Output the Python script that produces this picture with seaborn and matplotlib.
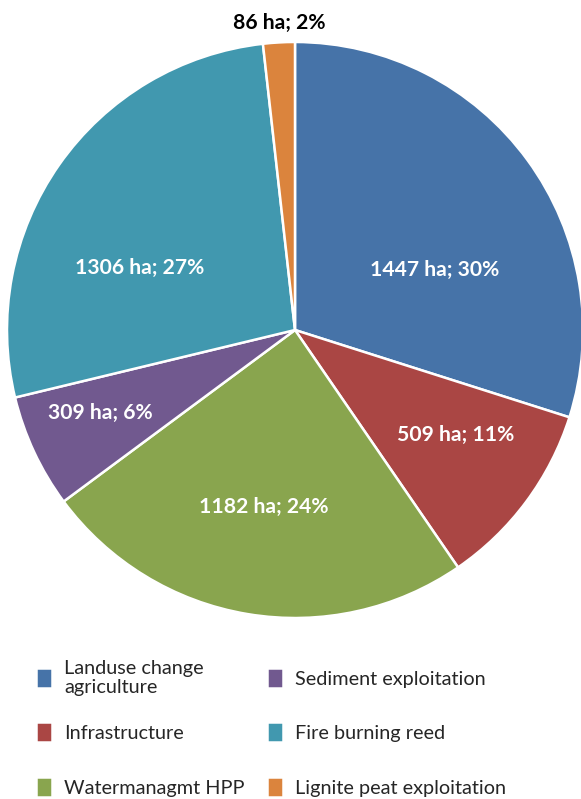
import matplotlib
matplotlib.use("Agg")
import matplotlib.pyplot as plt
import seaborn as sns

# Land affected by each driver (hectares)
categories = ["Landuse change\nagriculture", "Infrastructure", "Watermanagmt HPP",
              "Sediment exploitation", "Fire burning reed", "Lignite peat exploitation"]
hectares = [1447, 509, 1182, 309, 1306, 86]
colors_hex = ["#4673A8", "#AA4644", "#89A54E", "#71598F", "#4198AF", "#DB843D"]

sns.set_theme(style="white")
plt.rcParams["font.family"] = ["Lato", "DejaVu Sans"]

palette = sns.color_palette(colors_hex)

fig = plt.figure(figsize=(5.81, 7.99), dpi=100)
ax = fig.add_axes([7 / 581, (799 - 330 - 288) / 799, 576 / 581, 576 / 799])

wedges, _ = ax.pie(hectares, colors=palette, startangle=90, counterclock=False,
                   radius=1.0, wedgeprops=dict(edgecolor="white", linewidth=1.8))
ax.set_xlim(-1, 1)
ax.set_ylim(-1, 1)
ax.set_aspect("equal")
ax.axis("off")

# Data labels "<ha> ha; <pct>%" placed in/around each slice
total = sum(hectares)
label_pos = [(0.486, 0.208), (0.559, -0.365), (-0.108, -0.615),
             (-0.677, -0.288), (-0.538, 0.215), (-0.055, 1.066)]
for val, (lx, ly), w in zip(hectares, label_pos, wedges):
    pct = round(100 * val / total)
    inside = val > 200
    ax.text(lx, ly, f"{val} ha; {pct}%", ha="center", va="center",
            fontsize=15.2, fontweight="bold",
            color="white" if inside else "black", clip_on=False)

# Legend: two columns, three rows
row_y = [678, 732, 787]
col_x = [36, 267]
for i, (w, lab) in enumerate(zip(wedges, categories)):
    col, row = divmod(i, 3)
    fig.legend(handles=[w], labels=[lab], loc="center left",
               bbox_to_anchor=(col_x[col] / 581, 1 - row_y[row] / 799),
               frameon=False, borderpad=0, borderaxespad=0,
               handlelength=0.8, handleheight=1.15, handletextpad=0.62,
               fontsize=14.3, labelspacing=0)

fig.savefig("out.png", dpi=100)
